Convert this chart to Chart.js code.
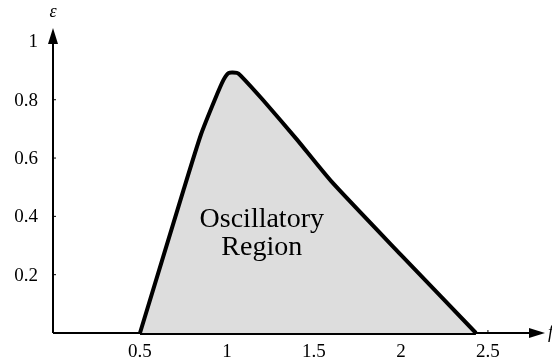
<!DOCTYPE html>
<html>
<head>
<meta charset="utf-8">
<script src="https://cdn.jsdelivr.net/npm/chart.js@4/dist/chart.umd.min.js"></script>
<style>
    html, body { margin: 0; padding: 0; background: #fff; }
    #wrap { width: 552px; height: 360px; position: relative; }
</style>
</head>
<body>
<div id="wrap"><canvas id="myChart"></canvas></div>
<script>
// boundary of the oscillatory region
const fValues = [0.5, 0.75, 0.85, 0.93, 0.98, 1.01, 1.057, 1.08, 1.207, 1.4, 1.6, 2.0, 2.431];
const epsValues = [0, 0.49, 0.68, 0.80, 0.868, 0.892, 0.892, 0.882, 0.799, 0.665, 0.52, 0.268, 0];
const xTicks = [0.5, 1, 1.5, 2, 2.5];
const xTickLabels = ['0.5', '1', '1.5', '2', '2.5'];
const yTicks = [0.2, 0.4, 0.6, 0.8, 1];
const yTickLabels = ['0.2', '0.4', '0.6', '0.8', '1'];
const regionLabel = ['Oscillatory', 'Region'];

const SERIF = '"Liberation Serif", "DejaVu Serif", serif';

const axesPlugin = {
    id: 'axes',
    beforeDatasetsDraw(chart) {
        const c = chart.ctx;
        const x = chart.scales.x, y = chart.scales.y;
        const x0 = x.getPixelForValue(0), y0 = y.getPixelForValue(0);
        const xEnd = x.right, yEnd = y.top;
        c.save();
        c.strokeStyle = '#000';
        c.fillStyle = '#000';
        c.lineWidth = 2;
        c.beginPath();
        c.moveTo(x0, y0);
        c.lineTo(xEnd - 10, y0);
        c.moveTo(x0, y0);
        c.lineTo(x0, yEnd + 10);
        c.stroke();
        // arrow heads
        c.beginPath();
        c.moveTo(xEnd, y0);
        c.lineTo(xEnd - 16, y0 - 5);
        c.lineTo(xEnd - 16, y0 + 5);
        c.closePath();
        c.fill();
        c.beginPath();
        c.moveTo(x0, yEnd);
        c.lineTo(x0 - 5, yEnd + 16);
        c.lineTo(x0 + 5, yEnd + 16);
        c.closePath();
        c.fill();
        // tick marks
        c.lineWidth = 1;
        c.beginPath();
        xTicks.forEach(v => {
            const px = x.getPixelForValue(v);
            c.moveTo(px, y0);
            c.lineTo(px, y0 - 3);
        });
        yTicks.forEach(v => {
            const py = y.getPixelForValue(v);
            c.moveTo(x0, py);
            c.lineTo(x0 + 3, py);
        });
        c.stroke();
        // tick labels
        c.font = '19px ' + SERIF;
        c.textAlign = 'center';
        c.textBaseline = 'middle';
        xTicks.forEach((v, i) => {
            c.fillText(xTickLabels[i], x.getPixelForValue(v), y0 + 19);
        });
        c.textAlign = 'right';
        yTicks.forEach((v, i) => {
            c.fillText(yTickLabels[i], x0 - 15, y.getPixelForValue(v) + 1);
        });
        // axis names
        c.font = 'italic 18px ' + SERIF;
        c.textAlign = 'center';
        c.fillText('\u03b5', x0, 12);
        c.textAlign = 'left';
        c.fillText('f', xEnd + 3, y0);
        c.restore();
    },
    afterDatasetsDraw(chart) {
        const c = chart.ctx;
        const x = chart.scales.x, y = chart.scales.y;
        c.save();
        c.fillStyle = '#000';
        c.font = '28px ' + SERIF;
        c.textAlign = 'center';
        c.textBaseline = 'middle';
        c.fillText(regionLabel[0], x.getPixelForValue(1.2), y.getPixelForValue(0.39));
        c.fillText(regionLabel[1], x.getPixelForValue(1.2), y.getPixelForValue(0.293));
        c.restore();
    }
};

function CreateChart() {
    const ctx = document.getElementById('myChart');
    const curve = fValues.map((f, i) => ({ x: f, y: epsValues[i] }));
    const base = [
        { x: fValues[0], y: 0 },
        { x: fValues[fValues.length - 1], y: 0 }
    ];

    new Chart(ctx, {
        type: 'scatter',
        data: {
            datasets: [{
                data: curve,
                showLine: true,
                borderColor: '#000',
                borderWidth: 4,
                backgroundColor: '#dddddd',
                fill: 'origin',
                tension: 0.2,
                pointRadius: 0,
                clip: false
            }, {
                data: base,
                showLine: true,
                borderColor: '#000',
                borderWidth: 4,
                fill: false,
                pointRadius: 0,
                clip: false
            }]
        },
        options: {
            responsive: true,
            maintainAspectRatio: false,
            animation: false,
            layout: {
                padding: { left: 53, right: 7, top: 28, bottom: 27 }
            },
            scales: {
                x: { type: 'linear', min: 0, max: 2.828, display: false },
                y: { type: 'linear', min: 0, max: 1.046, display: false }
            },
            plugins: {
                legend: { display: false },
                tooltip: { enabled: false }
            }
        },
        plugins: [axesPlugin]
    });
}

CreateChart();
</script>
</body>
</html>
